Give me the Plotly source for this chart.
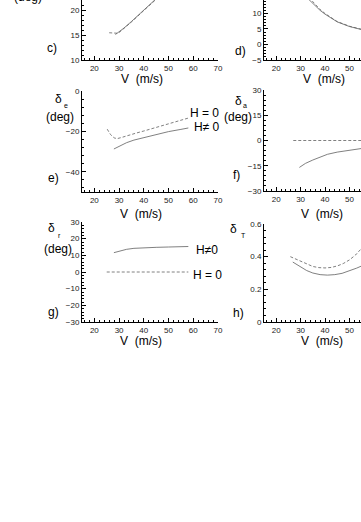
import plotly.graph_objects as go

W, H = 361, 522

# c) alpha (deg) vs V
c_v_h0 = [26.0, 28.0, 29.5, 30.0, 32.0, 35.0, 40.0, 45.0, 50.0, 58.0]
c_h0 = [15.45, 15.4, 15.35, 15.5, 16.3, 17.6, 19.9, 22.2, 24.5, 28.0]
c_v_h1 = [28.5, 30.0, 32.0, 35.0, 40.0, 45.0, 50.0, 58.0]
c_h1 = [15.1, 15.6, 16.4, 17.7, 20.0, 22.3, 24.6, 28.2]

# d) second angle (deg) vs V
d_v = [28.0, 30.0, 33.0, 35.0, 38.0, 40.0, 45.0, 50.0, 55.0, 58.0]
d_h0 = [22.0, 19.0, 15.5, 13.8, 11.3, 10.0, 7.4, 5.9, 4.8, 4.3]
d_h1 = [20.5, 17.8, 14.8, 13.2, 11.0, 9.8, 7.3, 5.8, 4.7, 4.2]

# e) delta_e (deg)
e_v_h0 = [25.2, 26.5, 28.0, 29.2, 31.0, 34.0, 37.0, 40.0, 45.0, 50.0, 55.0, 58.0]
e_h0 = [-18.9, -21.5, -23.2, -23.6, -23.0, -21.8, -20.8, -19.8, -18.0, -16.1, -14.6, -13.4]
e_v_h1 = [27.9, 30.0, 33.0, 36.0, 40.0, 45.0, 50.0, 55.0, 58.0]
e_h1 = [-28.7, -27.3, -25.6, -24.3, -23.0, -21.4, -20.1, -19.0, -18.3]

# f) delta_a (deg)
f_v_h0 = [27.0, 35.0, 45.0, 58.0]
f_h0 = [0.0, 0.0, 0.0, 0.0]
f_v_h1 = [29.5, 32.0, 35.0, 38.0, 41.0, 45.0, 50.0, 55.0, 58.0]
f_h1 = [-16.0, -13.6, -11.6, -9.8, -8.2, -6.9, -5.6, -4.6, -4.1]

# g) delta_r (deg)
g_v_h0 = [25.0, 35.0, 45.0, 58.0]
g_h0 = [0.0, 0.0, 0.0, 0.0]
g_v_h1 = [27.9, 30.0, 33.0, 36.0, 40.0, 45.0, 50.0, 55.0, 58.0]
g_h1 = [11.6, 12.6, 13.6, 14.2, 14.6, 14.8, 15.0, 15.2, 15.3]

# h) delta_T
h_v_h0 = [25.8, 28.0, 30.0, 32.5, 35.0, 37.5, 40.0, 42.5, 45.0, 47.5, 50.0, 52.5, 55.0, 58.0]
h_h0 = [0.400, 0.385, 0.370, 0.352, 0.340, 0.333, 0.331, 0.334, 0.343, 0.358, 0.380, 0.410, 0.448, 0.50]
h_v_h1 = [26.8, 29.0, 32.5, 35.0, 38.0, 41.0, 44.0, 47.0, 50.0, 53.0, 55.0, 58.0]
h_h1 = [0.367, 0.345, 0.315, 0.300, 0.290, 0.287, 0.290, 0.298, 0.312, 0.330, 0.343, 0.370]

LINE = "#606060"
FONT = "Liberation Sans, Arial, sans-serif"


def px(x):
    return x / W


def py(y):
    return 1 - y / H


fig = go.Figure()

panels = [
    (c_v_h0, c_h0, c_v_h1, c_h1),
    (d_v, d_h0, d_v, d_h1),
    (e_v_h0, e_h0, e_v_h1, e_h1),
    (f_v_h0, f_h0, f_v_h1, f_h1),
    (g_v_h0, g_h0, g_v_h1, g_h1),
    (h_v_h0, h_h0, h_v_h1, h_h1),
]
for i, (vx0, y0, vx1, y1) in enumerate(panels, start=1):
    suffix = "" if i == 1 else str(i)
    fig.add_trace(go.Scatter(x=vx0, y=y0, mode="lines", xaxis="x" + suffix, yaxis="y" + suffix,
                             line=dict(color=LINE, width=0.8, dash="3px,2px"), showlegend=False))
    fig.add_trace(go.Scatter(x=vx1, y=y1, mode="lines", xaxis="x" + suffix, yaxis="y" + suffix,
                             line=dict(color=LINE, width=0.8), showlegend=False))

left_dom = [px(82), px(218)]
right_dom = [px(264), 1.0]
right_end = 15 + (W - 264) / 2.44

# (x domain, x range, y domain in px (top, bottom), y range, y ticks, y minor step)
axes = [
    (left_dom, [15, 70], (0, 60), [10, 22], [10, 15, 20], 1),
    (right_dom, [15, right_end], (0, 60), [-5, 14.35], [-5, 0, 5, 10], 1),
    (left_dom, [15, 70], (91, 192), [-50, 0], [-40, -20, 0], 4),
    (right_dom, [15, right_end], (90, 191), [-30, 30], [-30, -15, 0, 15, 30], 3),
    (left_dom, [15, 70], (222, 322), [-30, 30], [-30, -20, -10, 0, 10, 20, 30], 2),
    (right_dom, [15, right_end], (224, 322), [0, 0.6], [0, 0.2, 0.4, 0.6], 0.04),
]

layout = dict(
    width=W, height=H, margin=dict(l=0, r=0, t=0, b=0, autoexpand=False),
    paper_bgcolor="white", plot_bgcolor="white",
    font=dict(family=FONT, color="black"),
)
for i, (xd, xr, (yt, yb), yr, yt_vals, ymin) in enumerate(axes, start=1):
    suffix = "" if i == 1 else str(i)
    common = dict(showline=True, linecolor="black", linewidth=1, showgrid=False, zeroline=False,
                  automargin=False, ticks="inside", ticklen=4, tickwidth=1, tickcolor="black",
                  tickfont=dict(size=8, family=FONT, color="#222"))
    layout["xaxis" + suffix] = dict(
        domain=xd, range=xr, anchor="y" + suffix, tickvals=[20, 30, 40, 50, 60, 70],
        minor=dict(dtick=2, ticks="inside", ticklen=2, tickcolor="black"), **common)
    layout["yaxis" + suffix] = dict(
        domain=[py(yb), py(yt)], range=yr, anchor="x" + suffix, tickvals=yt_vals,
        minor=dict(dtick=ymin, ticks="inside", ticklen=2, tickcolor="black"), **common)
fig.update_layout(**layout)


def label(text, x, y, size=12, xanchor="center", yanchor="middle"):
    fig.add_annotation(text=text, x=px(x), y=py(y), xref="paper", yref="paper",
                       showarrow=False, xanchor=xanchor, yanchor=yanchor, borderpad=0,
                       font=dict(size=size, family=FONT, color="black"))


vtitle = "V  (m/s)"
# panel letters and axis titles
label("c)", 52, 48)
label("d)", 240, 51)
label("e)", 53, 178)
label("f)", 237, 175)
label("g)", 53, 312)
label("h)", 238, 313)
for x, y in [(142, 79), (324, 79), (141, 214), (322, 214), (141, 341), (322, 341)]:
    label(vtitle, x, y)

# y-axis titles
label("(deg)", 28, 5, yanchor="bottom")
label("δ", 58, 99)
label("e", 66, 106, size=7)
label("(deg)", 60, 117)
label("δ", 238, 101)
label("a", 245, 106, size=7)
label("(deg)", 238, 117)
label("δ", 51, 228)
label("r", 59, 235, size=7)
label("(deg)", 58, 249)
label("δ", 233, 229)
label("T", 243, 235, size=7)

# curve labels
label("H = 0", 204, 113)
label("H≠ 0", 207, 127)
label("H≠0", 207, 250)
label("H = 0", 207, 275)

# the page body has a default 8px margin; drop it so the figure sits at the corner
fig.write_html("out.html", config={"displayModeBar": False},
               post_script="document.body.style.margin='0';")
